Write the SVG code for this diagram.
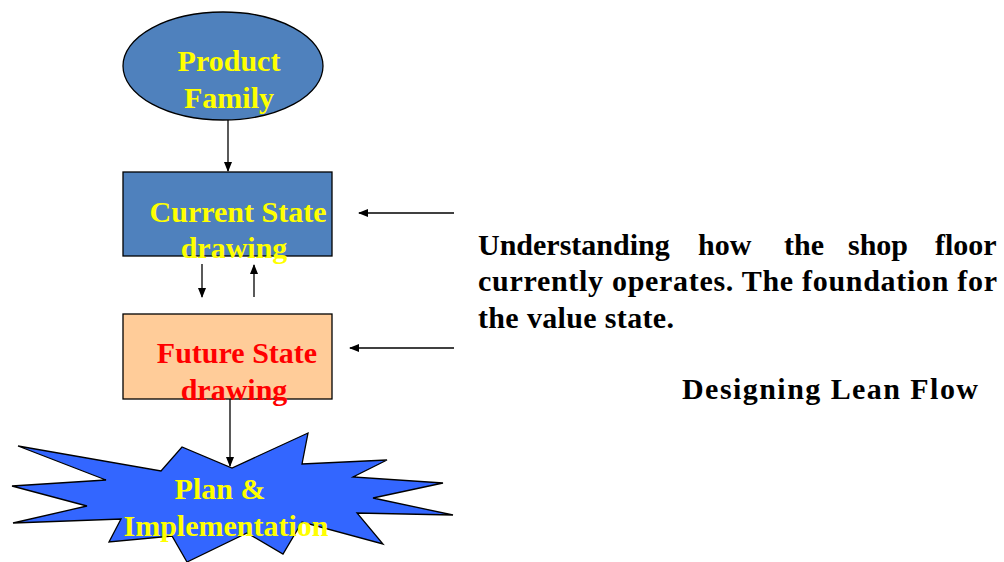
<svg xmlns="http://www.w3.org/2000/svg" width="1004" height="562" viewBox="0 0 1004 562">
  <style>
    .lbl { font-family: "Liberation Serif", "DejaVu Serif", serif; font-weight: bold; font-size: 30px; }
    .yel { fill: #FFFF00; }
    .red { fill: #FF0000; }
    .note { fill: #000000; }
    .shape { stroke: #000000; stroke-width: 1.3; }
    .wire { stroke: #000000; stroke-width: 1.3; fill: none; marker-end: url(#arrow); }
  </style>
  <defs>
    <marker id="arrow" markerWidth="10" markerHeight="10" refX="9" refY="5" orient="auto" markerUnits="userSpaceOnUse">
      <path d="M0,1 L10,5 L0,9 Z" fill="#000000"/>
    </marker>
  </defs>
  <rect width="1004" height="562" fill="#FFFFFF"/>

  <!-- Product family -->
  <g id="product-family">
    <ellipse cx="223" cy="66" rx="100" ry="54" fill="#4F81BD" class="shape"/>
    <text class="lbl yel" x="229" y="71" text-anchor="middle">Product</text>
    <text class="lbl yel" x="229" y="108" text-anchor="middle">Family</text>
  </g>

  <!-- Current state map -->
  <g id="current-state">
    <rect x="123" y="172" width="209" height="84" fill="#4F81BD" class="shape"/>
    <text class="lbl yel" x="238" y="222" text-anchor="middle">Current State</text>
    <text class="lbl yel" x="234" y="258" text-anchor="middle">drawing</text>
  </g>

  <!-- Future state map -->
  <g id="future-state">
    <rect x="123" y="314" width="209" height="85" fill="#FFCC99" class="shape"/>
    <text class="lbl red" x="237" y="363" text-anchor="middle">Future State</text>
    <text class="lbl red" x="234" y="400" text-anchor="middle">drawing</text>
  </g>

  <!-- Plan and implementation burst -->
  <g id="plan-implementation">
    <polygon points="18,446 161,471 182,447 232,468 308,433 302,464 387,460 353,477 443,483 373,498 453,515 357,513 383,544 302,522 283,554 247,533 187,562 172,536 109,542 121,519 13,523 87,506 12,486 106,480" fill="#3366FF" class="shape" stroke-linejoin="miter"/>
    <text class="lbl yel" x="220" y="499" text-anchor="middle">Plan &amp;</text>
    <text class="lbl yel" x="226" y="536" text-anchor="middle">Implementation</text>
  </g>

  <!-- Descriptions -->
  <g id="description">
    <text class="lbl note" y="255">
      <tspan x="478">Understanding</tspan>
      <tspan x="698">how</tspan>
      <tspan x="784">the</tspan>
      <tspan x="848">shop</tspan>
      <tspan x="935">floor</tspan>
    </text>
    <text class="lbl note" x="478" y="291" textLength="519" lengthAdjust="spacing">currently operates. The foundation for</text>
    <text class="lbl note" x="478" y="328" textLength="196" lengthAdjust="spacing">the value state.</text>
  </g>
  <g id="lean-flow">
    <text class="lbl note" x="682" y="399" textLength="296" lengthAdjust="spacing">Designing Lean Flow</text>
  </g>

  <!-- Connectors -->
  <g id="connectors">
    <line class="wire" x1="228" y1="120" x2="228" y2="171"/>
    <line class="wire" x1="202" y1="264" x2="202" y2="297"/>
    <line class="wire" x1="254" y1="297" x2="254" y2="265"/>
    <line class="wire" x1="230" y1="399" x2="230" y2="466"/>
    <line class="wire" x1="454" y1="213" x2="359" y2="213"/>
    <line class="wire" x1="454" y1="348" x2="350" y2="348"/>
  </g>
</svg>
